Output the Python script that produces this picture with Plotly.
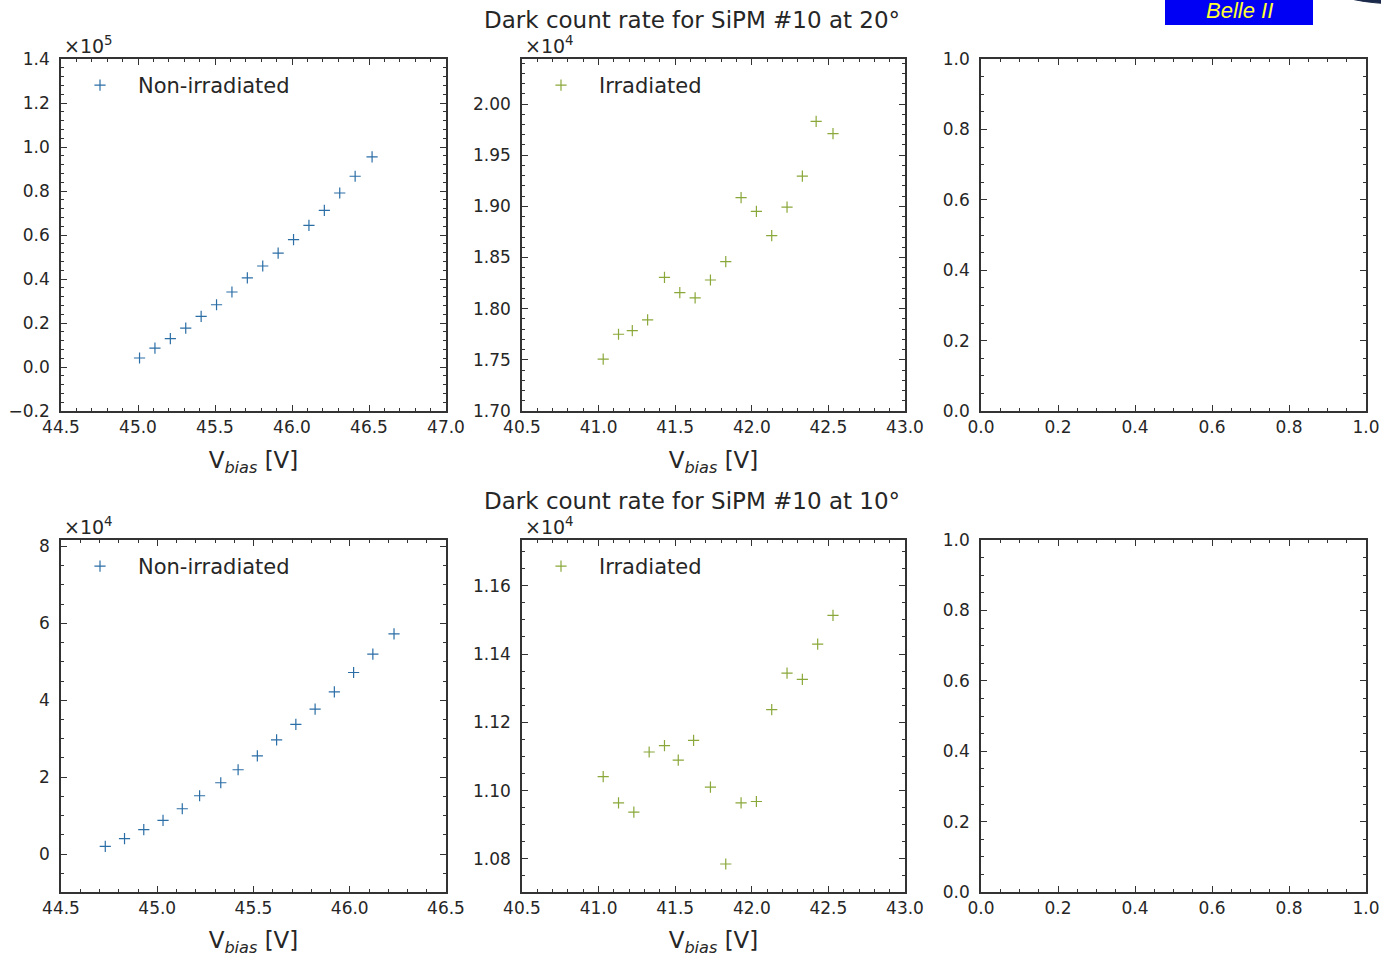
import plotly.graph_objects as go

W, H = 1381, 957

# ---------------- data ----------------
# 20 degrees, non-irradiated
vbias_nonirr_20 = [45.01, 45.11, 45.21, 45.31, 45.41, 45.51, 45.61, 45.71,
                   45.81, 45.91, 46.01, 46.11, 46.21, 46.31, 46.41, 46.52]
dcr_nonirr_20 = [4100, 8600, 12900, 17700, 23000, 28300, 34100, 40500,
                 45900, 51800, 57900, 64400, 71200, 79100, 86700, 95500]

# 20 degrees, irradiated
vbias_irr_20 = [41.03, 41.13, 41.22, 41.32, 41.43, 41.53, 41.63, 41.73,
                41.83, 41.93, 42.03, 42.13, 42.23, 42.33, 42.42, 42.53]
dcr_irr_20 = [17506, 17750, 17786, 17890, 18306, 18157, 18105, 18280,
              18460, 19086, 18950, 18713, 18993, 19295, 19830, 19710]

# 10 degrees, non-irradiated
vbias_nonirr_10 = [44.73, 44.83, 44.93, 45.03, 45.13, 45.22, 45.33, 45.42,
                   45.52, 45.62, 45.72, 45.82, 45.92, 46.02, 46.12, 46.23]
dcr_nonirr_10 = [1990, 3990, 6330, 8750, 11780, 15160, 18540, 21920,
                 25560, 29720, 33710, 37690, 42200, 47230, 51990, 57280]

# 10 degrees, irradiated
vbias_irr_10 = [41.03, 41.13, 41.23, 41.33, 41.43, 41.52, 41.62, 41.73,
                41.83, 41.93, 42.03, 42.13, 42.23, 42.33, 42.43, 42.53]
dcr_irr_10 = [11041, 10964, 10937, 11113, 11132, 11089, 11147, 11010,
              10785, 10964, 10968, 11237, 11344, 11326, 11429, 11513]

titles = ["Dark count rate for SiPM #10 at 20°", "Dark count rate for SiPM #10 at 10°"]
legend_names = ["Non-irradiated", "Irradiated"]

BLUE = "#2b6ea6"
GREEN = "#8aa83a"
TXT = "#262626"
AX = "#333333"

# ---------------- geometry (pixels) ----------------
cols = [(61, 446), (522, 905), (981, 1366)]
rows = [(59, 411), (540, 892)]


def xdom(c):
    return [c[0] / W, c[1] / W]


def ydom(r):
    return [1 - r[1] / H, 1 - r[0] / H]


fig = go.Figure()

panels = [
    # (row, col, x, y, scale, color, name, xrange, yrange, xdtick, xminor, ydtick, yminor, yfmt)
    (0, 0, vbias_nonirr_20, dcr_nonirr_20, 1e5, BLUE, legend_names[0],
     [44.5, 47.0], [-0.2, 1.4], 0.5, 0.1, 0.2, 0.04, ".1f"),
    (0, 1, vbias_irr_20, dcr_irr_20, 1e4, GREEN, legend_names[1],
     [40.5, 43.0], [1.70, 2.044], 0.5, 0.1, 0.05, 0.01, ".2f"),
    (1, 0, vbias_nonirr_10, dcr_nonirr_10, 1e4, BLUE, legend_names[0],
     [44.5, 46.5], [-0.988, 8.17], 0.5, 0.1, 2, 0.5, "d"),
    (1, 1, vbias_irr_10, dcr_irr_10, 1e4, GREEN, legend_names[1],
     [40.5, 43.0], [1.0703, 1.1734], 0.5, 0.1, 0.02, 0.005, ".2f"),
]

axis_common = dict(
    showgrid=False, zeroline=False, showline=True, linecolor=AX, linewidth=1.5,
    mirror="ticks", ticks="inside", ticklen=6, tickwidth=1, tickcolor=AX,
    automargin=False,
    tickfont=dict(family="DejaVu Sans", size=17, color=TXT),
)

layout_axes = {}
n = 0
for i, (r, c, xs, ys, scale, color, name, xr, yr, xdt, xmn, ydt, ymn, yfmt) in enumerate(panels):
    n += 1
    xa = "x" if n == 1 else f"x{n}"
    ya = "y" if n == 1 else f"y{n}"
    lg = "legend" if n == 1 else f"legend{n}"
    fig.add_trace(go.Scatter(
        x=xs, y=[v / scale for v in ys], mode="markers", name=name,
        xaxis=xa, yaxis=ya, legend=lg, showlegend=True,
        marker=dict(symbol="cross-thin", size=8, color=color,
                    line=dict(color=color, width=1.2)),
    ))
    layout_axes[f"xaxis{'' if n == 1 else n}"] = dict(
        axis_common, domain=xdom(cols[c]), anchor=ya, range=xr,
        tick0=xr[0], dtick=xdt, tickformat=".1f",
        minor=dict(dtick=xmn, ticks="inside", ticklen=3, tickcolor=AX),
        title=dict(text="V<sub><i>bias</i></sub> [V]",
                   font=dict(family="DejaVu Sans", size=23, color=TXT), standoff=16),
    )
    layout_axes[f"yaxis{'' if n == 1 else n}"] = dict(
        axis_common, domain=ydom(rows[r]), anchor=xa, range=yr,
        tick0=0, dtick=ydt, tickformat=yfmt, ticklabelstandoff=6,
        minor=dict(dtick=ymn, ticks="inside", ticklen=3, tickcolor=AX),
    )
    x0 = cols[c][0]
    y0 = rows[r][0]
    layout_axes[lg] = dict(
        x=(x0 + 1) / W, y=1 - (y0 + 6) / H, xanchor="left", yanchor="top",
        bgcolor="rgba(0,0,0,0)", borderwidth=0, itemwidth=66,
        font=dict(family="DejaVu Sans", size=21, color=TXT),
    )

# empty panels on the right
for r in range(2):
    n += 1
    xa = f"x{n}"
    ya = f"y{n}"
    layout_axes[f"xaxis{n}"] = dict(
        axis_common, domain=xdom(cols[2]), anchor=ya, range=[0, 1],
        tick0=0, dtick=0.2, tickformat=".1f",
        minor=dict(dtick=0.05, ticks="inside", ticklen=3, tickcolor=AX),
    )
    layout_axes[f"yaxis{n}"] = dict(
        axis_common, domain=ydom(rows[r]), anchor=xa, range=[0, 1],
        tick0=0, dtick=0.2, tickformat=".1f", ticklabelstandoff=6,
        minor=dict(dtick=0.05, ticks="inside", ticklen=3, tickcolor=AX),
    )
    # invisible trace so the axes are drawn
    fig.add_trace(go.Scatter(x=[], y=[], xaxis=xa, yaxis=ya, showlegend=False))

annotations = []
# exponent labels
for (r, c, xs, ys, scale, *_rest) in panels:
    exp = 5 if scale == 1e5 else 4
    annotations.append(dict(
        text=f"×10<sup>{exp}</sup>", x=(cols[c][0] + 1) / W, y=1 - (rows[r][0] - 14) / H,
        xref="paper", yref="paper", xanchor="left", yanchor="middle", showarrow=False,
        font=dict(family="DejaVu Sans", size=19, color=TXT),
    ))
# row titles
for r, t in enumerate(titles):
    annotations.append(dict(
        text=t, x=692 / W, y=1 - (rows[r][0] - 39) / H, xref="paper", yref="paper",
        xanchor="center", yanchor="middle", showarrow=False,
        font=dict(family="DejaVu Sans", size=23, color=TXT),
    ))
# Belle II logo text
annotations.append(dict(
    text="<i>Belle II</i>", x=1239 / W, y=1 - 10 / H, xref="paper", yref="paper",
    xanchor="center", yanchor="middle", showarrow=False,
    font=dict(family="Liberation Sans", size=22, color="#ffff33"),
))

shapes = [
    dict(type="rect", xref="paper", yref="paper", x0=1165 / W, x1=1313 / W,
         y0=1 - 25 / H, y1=1.02, fillcolor="#0000f5", line=dict(width=0), layer="below"),
    dict(type="circle", xref="paper", yref="paper", x0=1334 / W, x1=1470 / W,
         y0=1 - 4 / H, y1=1 + 26 / H, fillcolor="#1b2a4a",
         line=dict(color="#1b2a4a", width=1)),
]

fig.update_layout(
    width=W, height=H, margin=dict(l=0, r=0, t=0, b=0, autoexpand=False),
    paper_bgcolor="white", plot_bgcolor="white",
    font=dict(family="DejaVu Sans", color=TXT),
    annotations=annotations, shapes=shapes,
    **layout_axes,
)

fig.write_html(
    "out.html",
    config={"displayModeBar": False},
    post_script="document.body.style.margin='0';document.body.style.overflow='hidden';",
)
